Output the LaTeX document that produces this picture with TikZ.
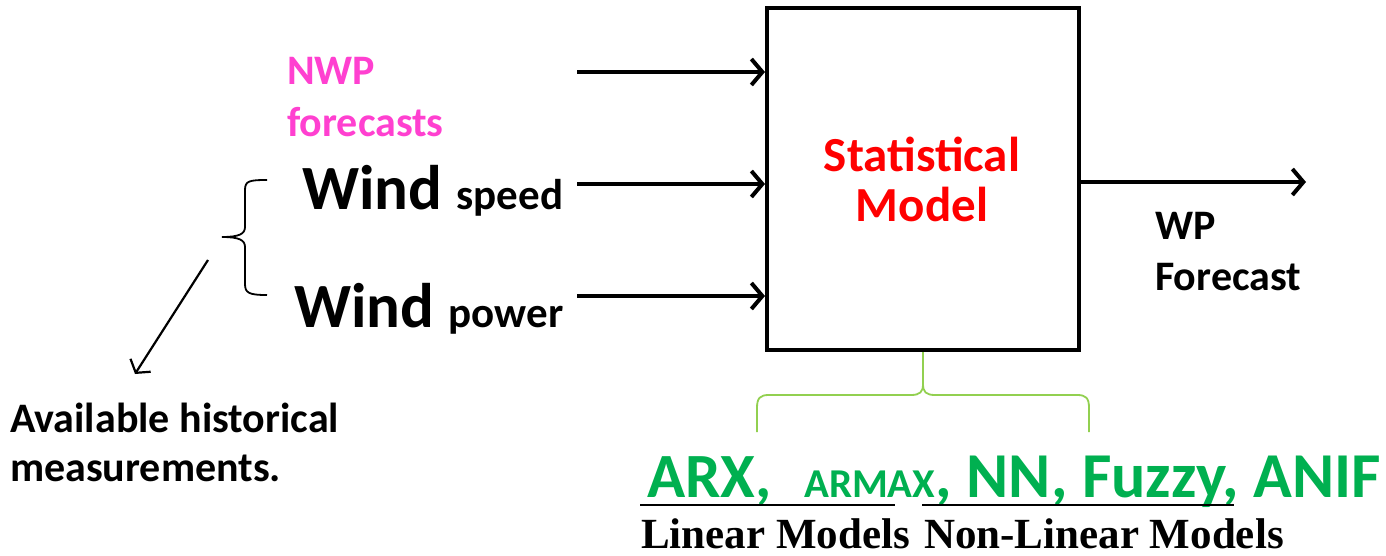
\documentclass[tikz,border=0pt]{standalone}
\usepackage{fontspec}
\setmainfont{Carlito}
\newfontfamily\timesf{Liberation Serif}
\usetikzlibrary{arrows.meta}
\definecolor{nwp}{HTML}{FF40D0}
\definecolor{gtext}{HTML}{00B050}
\definecolor{gbrace}{HTML}{92D050}
\newcommand{\fs}[1]{\fontsize{#1}{#1}\selectfont}
\begin{document}
\begin{tikzpicture}[x=1pt,y=-1pt,
  lbl/.style={inner sep=0pt, anchor=base west, font=\bfseries},
  clbl/.style={inner sep=0pt, anchor=base, font=\bfseries},
  inarrow/.style={line width=4pt, -{Straight Barb[length=11pt,width=26pt]}},
  thinarrow/.style={line width=2.2pt, -{Straight Barb[length=9pt,width=24pt]}},
  bracket/.style={line width=1.8pt},
  ]
\useasboundingbox (0,0) rectangle (1386,556);
% box
\node[draw, line width=4pt, minimum width=312pt, minimum height=342pt, inner sep=0pt] (box) at (923,179) {};
\node[clbl, text=red] (st1) at (922,172) {\fs{49}Statistical};
\node[clbl, text=red] (st2) at (922,222) {\fs{49}Model};
% inputs
\node[lbl, text=nwp] (nwp1) at (287,85) {\fs{42}NWP};
\node[lbl, text=nwp] (nwp2) at (287,137) {\fs{42}forecasts};
\node[lbl] (ws) at (302,210) {\fs{63}Wind \fs{43}speed};
\node[lbl] (wp) at (294,327) {\fs{63}Wind \fs{43}power};
\coordinate (i1) at (577,72);
\coordinate (i2) at (577,184);
\coordinate (i3) at (577,296);
\draw[inarrow] (i1) -- (i1 -| box.west);
\draw[inarrow] (i2) -- (i2 -| box.west);
\draw[inarrow] (i3) -- (i3 -| box.west);
% output
\coordinate (o1) at (1306,182);
\draw[inarrow] (o1 -| box.east) -- (o1);
\node[lbl] (wp1) at (1155,240) {\fs{42}WP};
\node[lbl] (wp2) at (1155,290) {\fs{42}Forecast};
% left bracket
\draw[bracket] (267,180) .. controls (249,180) and (245,181) .. (245,190) -- (245,227)
  .. controls (245,234) and (239,237) .. (222,237)
  .. controls (239,237) and (245,240) .. (245,247) -- (245,284)
  .. controls (245,293) and (249,295) .. (267,295);
\coordinate (d1) at (208,260);
\coordinate (d2) at (135,374);
\draw[thinarrow] (d1) -- (d2);
\node[lbl] (av1) at (10,432) {\fs{42}Available historical};
\node[lbl] (av2) at (10,481) {\fs{42}measurements.};
% green brace
\draw[gbrace, line width=1.8pt] (box.south) -- (923,384)
  .. controls (923,392) and (920,395) .. (911,395) -- (769,395)
  .. controls (760,395) and (757,398) .. (757,408) -- (757,432);
\draw[gbrace, line width=1.8pt] (923,384)
  .. controls (923,392) and (926,395) .. (935,395) -- (1077,395)
  .. controls (1086,395) and (1089,398) .. (1089,408) -- (1089,432);
% green text
\node[lbl, text=gtext] (g1) at (647,497) {\fs{63}ARX,};
\node[lbl, text=gtext] (g2) at (804,497) {\fs{41}ARMAX};
\node[lbl, text=gtext, anchor=base west] (g3) at (g2.base east) {\fs{64}, NN, Fuzzy, ANIF};
\coordinate (u1) at (640,505);
\coordinate (u2) at (895,505);
\coordinate (u3) at (922,505);
\coordinate (u4) at (1234,505);
\draw[line width=2pt] (u1) -- (u2);
\draw[line width=2pt] (u3) -- (u4);
\node[lbl, font=\timesf\bfseries] (lm) at (641,548) {\fs{43}Linear Models};
\node[lbl, font=\timesf\bfseries] (nlm) at (924,548) {\fs{43}Non-Linear Models};
\end{tikzpicture}
\end{document}
